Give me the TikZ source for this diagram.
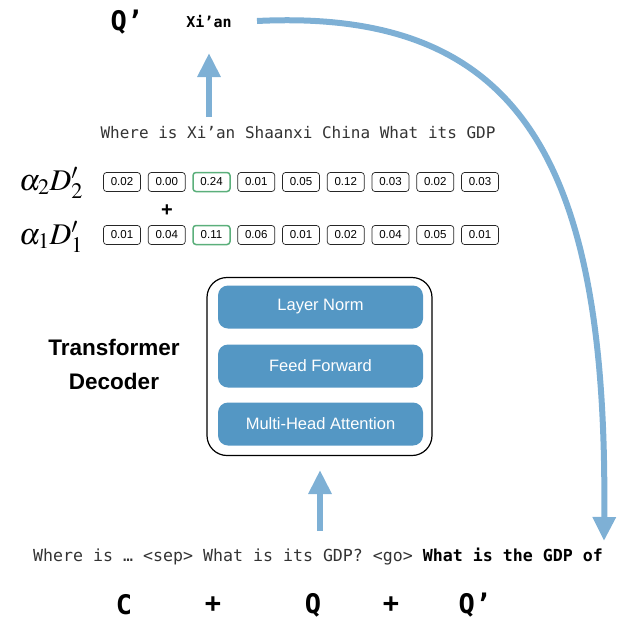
\documentclass[tikz,border=0pt]{standalone}
\usepackage{mathptmx}
\usepackage{fontspec}
\setmainfont{Liberation Sans}
\setmonofont{DejaVu Sans Mono}
\usetikzlibrary{arrows.meta}
\definecolor{arrowblue}{HTML}{7EB0D5}
\definecolor{boxblue}{HTML}{5497C4}
\definecolor{hlgreen}{HTML}{5BAF7B}
\tikzset{
  bigarrow/.style={draw=arrowblue, line width=6pt, -{Triangle[width=22pt,length=24pt]}},
  valbox/.style={draw=black!85, line width=0.7pt, rounded corners=3pt, minimum width=37pt, minimum height=19pt, inner sep=0pt, font=\fontsize{11.5}{13}\selectfont},
  hlbox/.style={valbox, draw=hlgreen, line width=1.5pt},
  layerbox/.style={fill=boxblue, rounded corners=10pt, minimum width=205pt, minimum height=43pt, inner sep=0pt, text=white, font=\fontsize{16.5}{19}\selectfont},
  monotxt/.style={font=\ttfamily\fontsize{16}{19}\selectfont, text=black!80, inner sep=0pt},
  bigmono/.style={font=\ttfamily\bfseries\fontsize{27}{30}\selectfont, inner sep=0pt},
  mathlbl/.style={font=\fontsize{30}{32}\selectfont, inner sep=0pt}
}
\begin{document}
\begin{tikzpicture}[x=1pt,y=-1pt]
\useasboundingbox (0,0) rectangle (619,622);
% top
\node[bigmono] (qtop) at (127,22) {Q’};
\node[font=\ttfamily\bfseries\fontsize{15}{18}\selectfont, inner sep=0pt] (xian) at (209,22) {Xi’an};
\node[monotxt] (toptext) at (298,133) {Where is Xi’an Shaanxi China What its GDP};
\coordinate (a1s) at (209,117);
\coordinate (a1e) at (209,53);
\draw[bigarrow] (a1s) -- (a1e);
% labels
\node[mathlbl] (l2) at (51,183) {$\alpha_2 D_2'$};
\node[mathlbl] (l1) at (51,237) {$\alpha_1 D_1'$};
\node[font=\bfseries\fontsize{20}{22}\selectfont, inner sep=0pt] (plus) at (167,211) {+};
% value boxes
\foreach \v [count=\i] in {0.02,0.00,0.24,0.01,0.05,0.12,0.03,0.02,0.03}{
  \ifnum\i=3
    \node[hlbox] (r2-\i) at ({122+44.75*(\i-1)},182) {\v};
  \else
    \node[valbox] (r2-\i) at ({122+44.75*(\i-1)},182) {\v};
  \fi
}
\foreach \v [count=\i] in {0.01,0.04,0.11,0.06,0.01,0.02,0.04,0.05,0.01}{
  \ifnum\i=3
    \node[hlbox] (r1-\i) at ({122+44.75*(\i-1)},235) {\v};
  \else
    \node[valbox] (r1-\i) at ({122+44.75*(\i-1)},235) {\v};
  \fi
}
% decoder
\node[draw=black, line width=1.2pt, rounded corners=20pt, minimum width=225pt, minimum height=178pt] (dec) at (319.5,366.5) {};
\node[layerbox] (ln) at (320.5,307) {Layer Norm};
\node[layerbox] (ff) at (320.5,366) {Feed Forward};
\node[layerbox] (mha) at (320.5,424) {Multi-Head Attention};
\node[font=\bfseries\fontsize{22.5}{34}\selectfont, align=center, inner sep=0pt] (tdlbl) at (114,364) {Transformer\\Decoder};
% bottom
\coordinate (a2s) at (320,531);
\coordinate (a2e) at (320,470);
\draw[bigarrow] (a2s) -- (a2e);
\node[monotxt, anchor=west, font=\ttfamily\fontsize{16.6}{19}\selectfont] (bottext) at (33,557) {Where is … <sep> What is its GDP? <go> \textbf{\color{black}What is the GDP of}};
\node[bigmono] (bc) at (124,605) {C};
\node[bigmono] (bp1) at (213,605) {+};
\node[bigmono] (bq) at (313,605) {Q};
\node[bigmono] (bp2) at (391,605) {+};
\node[bigmono] (bqq) at (475,605) {Q’};
% curved arrow
\coordinate (cs) at (257,21);
\coordinate (ce) at (604,541);
\draw[bigarrow] (cs) .. controls (520,8) and (608,160) .. (ce);
\end{tikzpicture}
\end{document}
